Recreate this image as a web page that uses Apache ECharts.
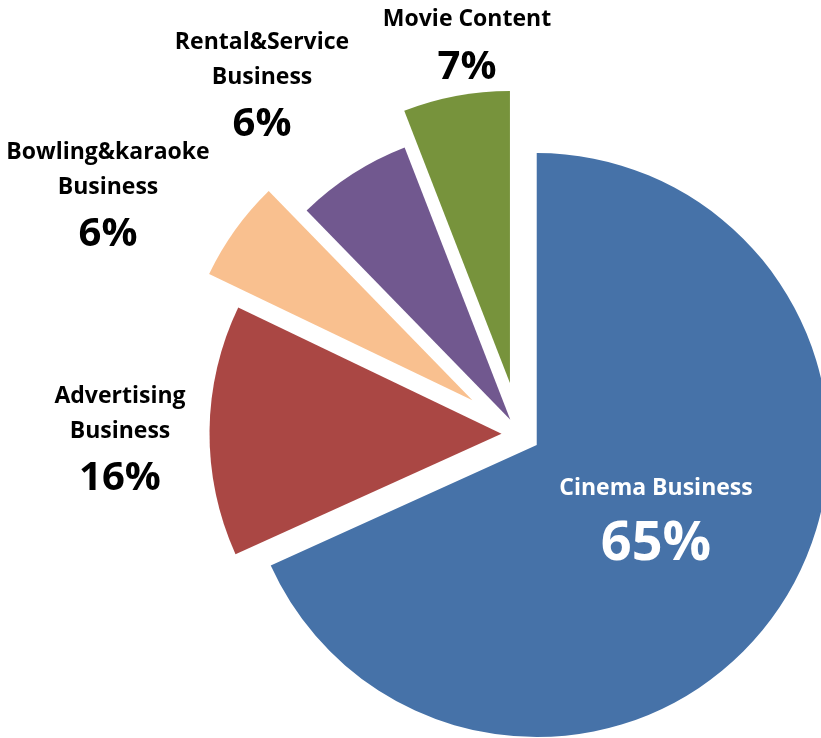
<!DOCTYPE html>
<html lang="en">
  <head>
    <meta charset="UTF-8" />
    <script src="https://cdn.jsdelivr.net/npm/echarts@6/dist/echarts.min.js"></script>
    <style>
      html, body { margin: 0; padding: 0; background: #fff; }
    </style>
    <title>Business share pie</title>
  </head>
  <body>
    <div id="main" style="width: 821px; height: 738px;"></div>

    <script>
      const categories = [
        "Cinema Business",
        "Advertising\nBusiness",
        "Bowling&karaoke\nBusiness",
        "Rental&Service\nBusiness",
        "Movie Content",
      ];
      // slice sizes as drawn in the picture (the printed labels are rounded differently)
      const shares = [68.3, 13.9, 5.6, 6.4, 5.9];
      const shareLabels = ["65%", "16%", "6%", "6%", "7%"];

      const colors = ["#4672a8", "#aa4744", "#f9c08f", "#71588f", "#77933c"];
      const explode = [20.5, 18, 58, 17, 52];
      const labelPos = [[656, 525], [120, 444], [108, 200], [262, 90], [467, 50]];
      const cx = 519.5, cy = 434, radius = 292;

      const myChart = echarts.init(document.getElementById("main"));

      const total = shares.reduce((a, b) => a + b, 0);
      let cum = 0;
      const series = shares.map((v, i) => {
        const mid = ((cum + v / 2) / total) * 2 * Math.PI;
        cum += v;
        const inside = i === 0;
        return {
          type: "pie",
          silent: true,
          animation: false,
          startAngle: 90,
          clockwise: true,
          radius: radius,
          center: [cx + explode[i] * Math.sin(mid), cy - explode[i] * Math.cos(mid)],
          avoidLabelOverlap: false,
          labelLine: { show: false },
          itemStyle: { borderWidth: 0 },
          labelLayout: () => ({
            x: labelPos[i][0],
            y: labelPos[i][1],
            align: "center",
            verticalAlign: "middle",
          }),
          data: categories.map((name, j) => ({
            name: name,
            value: shares[j],
            itemStyle: { color: j === i ? colors[j] : "transparent" },
            label: {
              show: j === i,
              color: inside ? "#fff" : "#000",
              align: "center",
              formatter: () => "{n|" + categories[j] + "}\n{p|" + shareLabels[j] + "}",
              rich: {
                n: {
                  fontFamily: "Open Sans",
                  fontWeight: "bold",
                  fontSize: 23,
                  lineHeight: inside ? 40 : 35,
                  align: "center",
                },
                p: {
                  fontFamily: "Open Sans",
                  fontWeight: "bold",
                  fontSize: inside ? 54 : 40,
                  lineHeight: inside ? 74 : 61,
                  align: "center",
                },
              },
            },
          })),
        };
      });

      myChart.setOption({ series: series });
    </script>
  </body>
</html>
